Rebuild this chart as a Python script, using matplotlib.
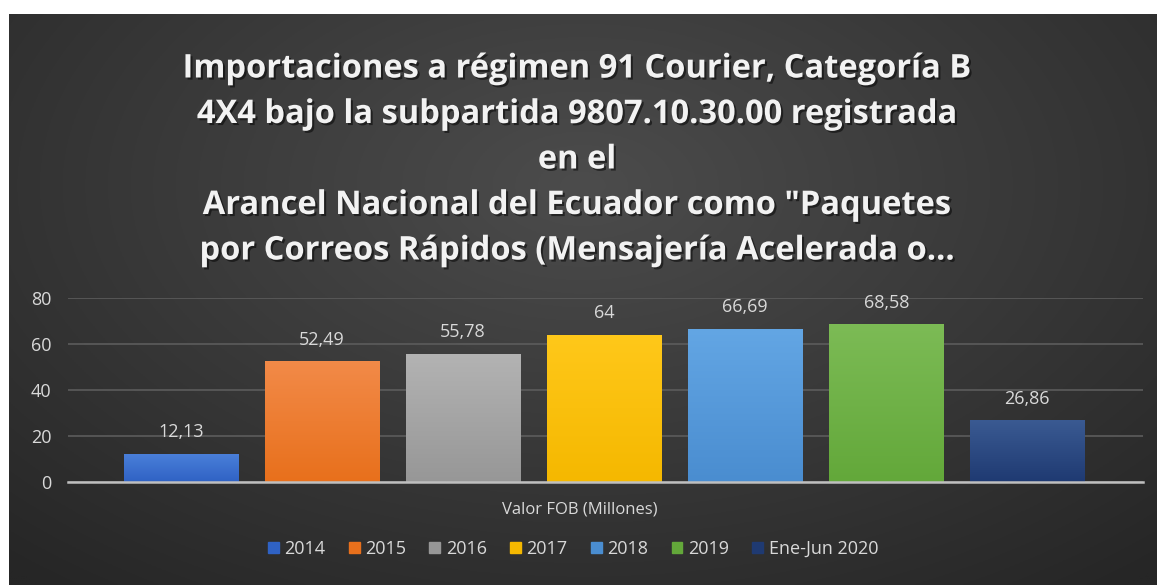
""" bar chart: importaciones courier categoria B """
import matplotlib
matplotlib.use('Agg')
import matplotlib.pyplot as plt
import matplotlib.patheffects as pe
import numpy as np

plt.rcParams['font.family'] = ['Open Sans', 'DejaVu Sans']

# data
series = ['2014', '2015', '2016', '2017', '2018', '2019', 'Ene-Jun 2020']
values = [12.13, 52.49, 55.78, 64, 66.69, 68.58, 26.86]
labels = ['12,13', '52,49', '55,78', '64', '66,69', '68,58', '26,86']
category = 'Valor FOB (Millones)'
title = ('Importaciones a régimen 91 Courier, Categoría B\n'
         '4X4 bajo la subpartida 9807.10.30.00 registrada\n'
         'en el\n'
         'Arancel Nacional del Ecuador como "Paquetes\n'
         'por Correos Rápidos (Mensajería Acelerada o…')

# (top, bottom) colours of each bar gradient
colors = [('#4a7fd9', '#2f62c4'), ('#f28a48', '#e8701c'), ('#b3b3b3', '#979797'),
          ('#ffc81a', '#f5b800'), ('#63a6e4', '#4a8dd0'), ('#7cbb55', '#63a83a'),
          ('#3a5a92', '#1f3a72')]
text_col = '#d9d9d9'

W, H = 1157, 585
fig = plt.figure(figsize=(W / 100, H / 100), dpi=100)
fig.patch.set_facecolor('white')

# dark radial gradient panel
bg = fig.add_axes([9 / W, 0, 1 - 9 / W, 1 - 14 / H])
yy, xx = np.mgrid[0:1:300j, 0:1:600j]
r = np.sqrt(((xx - 0.5) / 0.75) ** 2 + ((yy - 0.3) / 0.9) ** 2)
r = np.clip(r, 0, 1)
c0, c1 = np.array([0x4c, 0x4c, 0x4c]) / 255, np.array([0x26, 0x26, 0x26]) / 255
img = c0[None, None, :] * (1 - r[..., None]) + c1[None, None, :] * r[..., None]
bg.imshow(img, aspect='auto', extent=[0, 1, 0, 1], origin='upper')
bg.set_axis_off()

# plot axes
x0, x1 = 68, 1143
y80, y0 = 298, 482
ax = fig.add_axes([x0 / W, 1 - y0 / H, (x1 - x0) / W, (y0 - y80) / H])
ax.patch.set_alpha(0)
n = len(values)

width = 0.81
grad = np.linspace(0, 1, 100)[:, None]
for i, (v, lab, (ct, cb)) in enumerate(zip(values, labels, colors)):
    bar = ax.bar(i, v, width=width, color=cb, zorder=3)[0]
    cmap = matplotlib.colors.LinearSegmentedColormap.from_list('g', [ct, cb])
    im = ax.imshow(grad, cmap=cmap, aspect='auto', zorder=3.1,
                   extent=[i - width / 2, i + width / 2, 0, v], origin='upper')
    im.set_clip_path(bar)
    ax.text(i, v + 5.5, lab, ha='center', va='bottom', color=text_col, fontsize=13)
ax.set_xlim(-0.80, n - 0.18)
ax.set_ylim(0, 80)

ax.set_yticks([0, 20, 40, 60, 80])
ax.yaxis.grid(True, color='#5c5c5c', lw=1.2, zorder=0)
ax.set_xticks([])
for s in ['top', 'right', 'left']:
    ax.spines[s].set_visible(False)
ax.spines['bottom'].set_color('#bfbfbf')
ax.spines['bottom'].set_linewidth(1.8)
ax.spines['bottom'].set_zorder(4)
ax.tick_params(axis='y', length=0, labelsize=13, labelcolor=text_col, pad=12)

fig.text(580 / W, 1 - 509 / H, category, ha='center', va='center',
         color=text_col, fontsize=12)

t = fig.text(577 / W, 1 - 160 / H, title, ha='center', va='center', color='#f2f2f2',
             fontsize=23.5, fontweight='bold', linespacing=1.5)
t.set_path_effects([pe.withSimplePatchShadow(offset=(1.5, -1.5), shadow_rgbFace='black', alpha=0.5)])

handles = [plt.Rectangle((0, 0), 1, 1, color=c[1]) for c in colors]
leg = fig.legend(handles, series, loc='center', bbox_to_anchor=(573 / W, 1 - 549 / H),
                 ncol=n, frameon=False, fontsize=13, labelcolor=text_col,
                 handlelength=0.6, handleheight=0.6, handletextpad=0.3, columnspacing=1.3)

fig.savefig('out.png', dpi=100, facecolor=fig.get_facecolor())
